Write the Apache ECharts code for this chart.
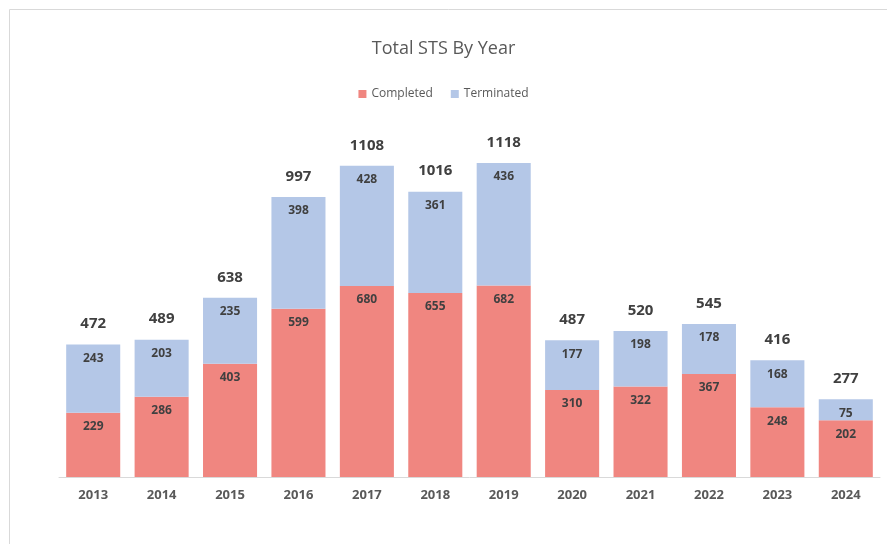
<!DOCTYPE html>
<html><head><meta charset="utf-8">
<script src="https://cdn.jsdelivr.net/npm/echarts@6/dist/echarts.min.js"></script>
<style>html,body{margin:0;padding:0;background:#fff}#c{width:887px;height:544px}</style>
</head><body><div id="c"></div>
<script>
const years = ['2013','2014','2015','2016','2017','2018','2019','2020','2021','2022','2023','2024'];
const completed = [229,286,403,599,680,655,682,310,322,367,248,202];
const terminated = [243,203,235,398,428,361,436,177,198,178,168,75];
const totals = completed.map((v,i)=>v+terminated[i]);
const FONT = 'Open Sans';
const chart = echarts.init(document.getElementById('c'));
chart.setOption({
  animation:false,
  textStyle:{fontFamily:FONT},
  graphic:[{type:'rect',shape:{x:9.5,y:9.5,width:900,height:600},style:{fill:'none',stroke:'#d9d9d9',lineWidth:1}}],
  title:{text:'Total STS By Year',left:'center',top:35,textStyle:{fontFamily:FONT,fontSize:18,fontWeight:'normal',color:'#595959'}},
  legend:{data:['Completed','Terminated'],top:83,left:'center',itemWidth:8,itemHeight:8,itemGap:18,icon:'rect',
    textStyle:{fontFamily:FONT,fontSize:12,color:'#595959'}},
  grid:{left:59,right:7,top:140,bottom:67,containLabel:false},
  xAxis:{type:'category',data:years,axisTick:{show:false},
    axisLine:{lineStyle:{color:'#d9d9d9'}},
    axisLabel:{fontFamily:FONT,fontSize:13,fontWeight:'bold',color:'#595959',margin:12}},
  yAxis:{type:'value',min:0,max:1200,show:false,splitLine:{show:false}},
  series:[
    {name:'Completed',type:'bar',stack:'s',data:completed,barWidth:'79%',itemStyle:{color:'#f08680'},
      label:{show:true,position:'insideTop',distance:8,fontFamily:FONT,fontSize:12,fontWeight:'bold',color:'#404040'}},
    {name:'Terminated',type:'bar',stack:'s',data:terminated,itemStyle:{color:'#b4c7e7'},
      label:{show:true,position:'insideTop',distance:8,fontFamily:FONT,fontSize:12,fontWeight:'bold',color:'#404040'}},
    {name:'Total',type:'bar',stack:'s',data:totals.map(()=>0),itemStyle:{color:'transparent'},
      label:{show:true,position:'top',distance:13,fontFamily:FONT,fontSize:15,fontWeight:'bold',color:'#404040',
        formatter:p=>String(totals[p.dataIndex])}}
  ]
});
</script></body></html>
